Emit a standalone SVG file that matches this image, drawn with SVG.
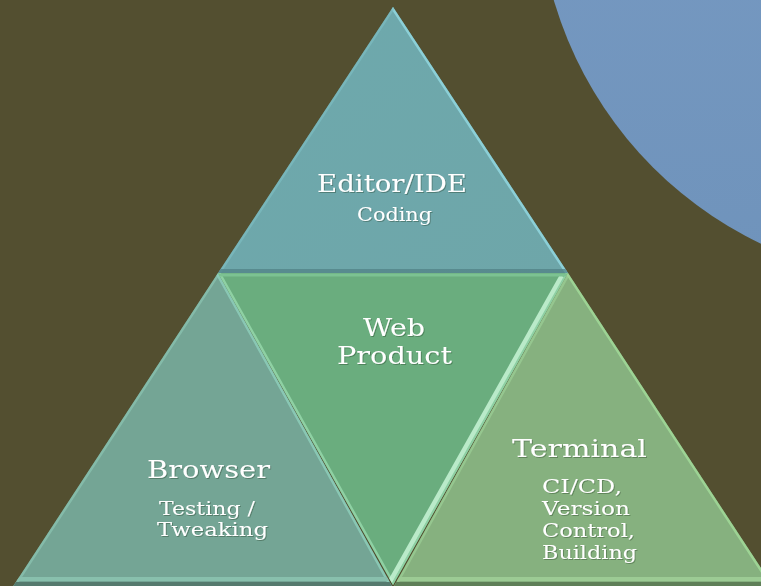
<svg xmlns="http://www.w3.org/2000/svg" width="761" height="586" viewBox="0 0 761 586">
  <defs>
    <linearGradient id="gCircle" x1="0" y1="0" x2="0" y2="1">
      <stop offset="0" stop-color="#7c9ec7"/>
      <stop offset="1" stop-color="#6f93bb"/>
    </linearGradient>
    <linearGradient id="gTop" x1="0" y1="0" x2="1" y2="1">
      <stop offset="0" stop-color="#6ea9ad"/>
      <stop offset="1" stop-color="#6ea6a9"/>
    </linearGradient>
    <filter id="shadow" x="-10%" y="-20%" width="120%" height="140%">
      <feDropShadow dx="1" dy="1" stdDeviation="0.6" flood-color="#203020" flood-opacity="0.35"/>
    </filter>
    <clipPath id="cTop"><polygon points="393,7 218,273 568,273"/></clipPath>
    <clipPath id="cLeft"><polygon points="218,273 12,588 393,588"/></clipPath>
    <clipPath id="cCenter"><polygon points="218,273 568,273 393,585"/></clipPath>
    <clipPath id="cRight"><polygon points="568,273 393,588 774,588"/></clipPath>
  </defs>
  <style>
    .main { font-family: "DejaVu Serif", "Liberation Serif", serif; fill: #ffffff; filter: url(#shadow); }
    .big { font-size: 25px; }
    .small { font-size: 18px; }
    .tiny { font-size: 18px; }
    .bevel { fill: none; stroke-width: 5; stroke-linejoin: miter; }
  </style>

  <rect width="761" height="586" fill="#534f30"/>
  <circle cx="930" cy="-110" r="392" fill="url(#gCircle)"/>

  <g id="node-editor">
    <polygon points="393,7 218,273 568,273" fill="url(#gTop)"/>
    <g clip-path="url(#cTop)">
      <polyline class="bevel" points="393,7 568,273" stroke="#8fd4dc" stroke-opacity="0.9"/>
      <polyline class="bevel" points="393,7 218,273" stroke="#7fc0c5" stroke-opacity="0.6"/>
      <line x1="218" y1="272" x2="568" y2="272" stroke="#4f7f83" stroke-width="6" stroke-opacity="0.7"/>
    </g>
    <text class="main big" x="317" y="192" textLength="150" lengthAdjust="spacingAndGlyphs">Editor/IDE</text>
    <text class="main tiny" x="357" y="221" textLength="75" lengthAdjust="spacingAndGlyphs">Coding</text>
  </g>

  <g id="node-browser">
    <polygon points="218,273 12,588 393,588" fill="#74a595"/>
    <g clip-path="url(#cLeft)">
      <polyline class="bevel" points="218,273 12,588" stroke="#8cc4b2" stroke-opacity="0.7"/>
      <polyline class="bevel" points="218,273 393,588" stroke="#8fcfbb" stroke-opacity="0.8"/>
      <line x1="12" y1="579" x2="393" y2="579" stroke="#88c0ad" stroke-width="4"/>
      <line x1="12" y1="584" x2="393" y2="584" stroke="#557a6e" stroke-width="4"/>
    </g>
    <text class="main big" x="147" y="478" textLength="123" lengthAdjust="spacingAndGlyphs">Browser</text>
    <text class="main small" x="159" y="515" textLength="96" lengthAdjust="spacingAndGlyphs">Testing /</text>
    <text class="main small" x="157" y="536" textLength="111" lengthAdjust="spacingAndGlyphs">Tweaking</text>
  </g>

  <g id="node-web-product">
    <polygon points="218,273 568,273 393,585" fill="#6aad7e"/>
    <g clip-path="url(#cCenter)">
      <polyline class="bevel" points="218,273 393,585" stroke="#9ee0b4" stroke-opacity="0.7"/>
      <polyline points="562,276 390,582" fill="none" stroke="#c8f5d6" stroke-width="5" stroke-opacity="0.85"/>
      <polyline points="568,273 393,585" fill="none" stroke="#8fd0a4" stroke-width="4"/>
      <line x1="218" y1="275" x2="568" y2="275" stroke="#7cc292" stroke-width="3"/>
    </g>
    <text class="main big" x="363" y="336" textLength="62" lengthAdjust="spacingAndGlyphs">Web</text>
    <text class="main big" x="337" y="364" textLength="115" lengthAdjust="spacingAndGlyphs">Product</text>
  </g>

  <g id="node-terminal">
    <polygon points="568,273 393,588 774,588" fill="#86b17f"/>
    <g clip-path="url(#cRight)">
      <polyline class="bevel" points="568,273 774,588" stroke="#a2dc9a" stroke-opacity="0.8"/>
      <polyline class="bevel" points="568,273 393,588" stroke="#a0d49a" stroke-opacity="0.6"/>
      <line x1="393" y1="579" x2="774" y2="579" stroke="#9ccb94" stroke-width="4"/>
      <line x1="393" y1="584" x2="774" y2="584" stroke="#5f7f58" stroke-width="4"/>
    </g>
    <text class="main big" x="512" y="457" textLength="135" lengthAdjust="spacingAndGlyphs">Terminal</text>
    <text class="main small" x="542" y="493" textLength="80" lengthAdjust="spacingAndGlyphs">CI/CD,</text>
    <text class="main small" x="542" y="515" textLength="88" lengthAdjust="spacingAndGlyphs">Version</text>
    <text class="main small" x="542" y="537" textLength="93" lengthAdjust="spacingAndGlyphs">Control,</text>
    <text class="main small" x="542" y="559" textLength="95" lengthAdjust="spacingAndGlyphs">Building</text>
  </g>

  <g id="connectors"/>
</svg>
